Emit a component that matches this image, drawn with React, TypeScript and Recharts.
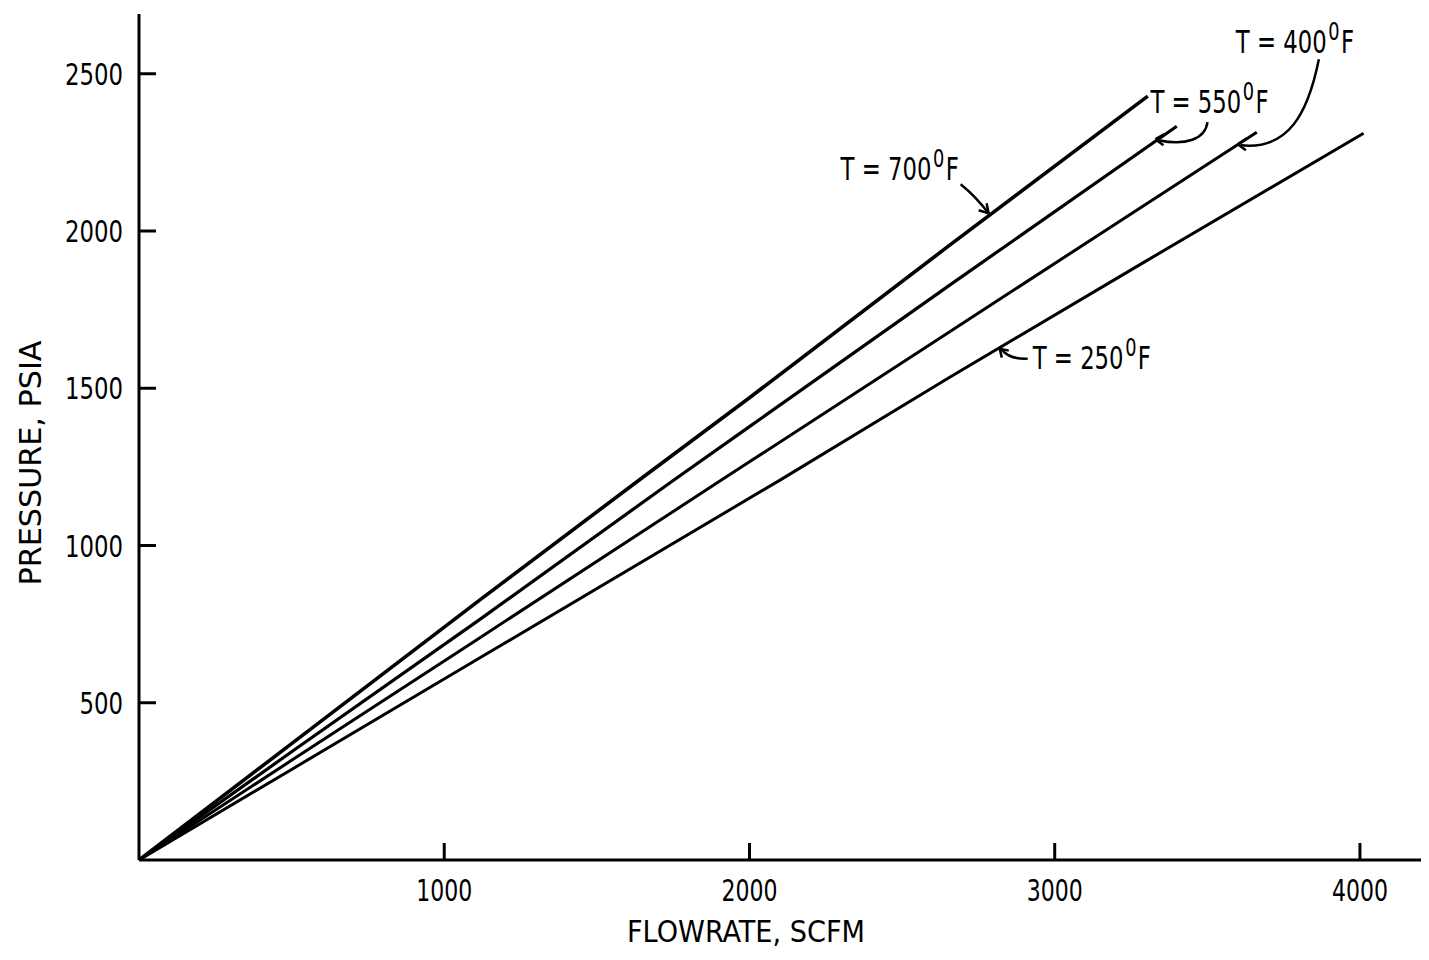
import React from 'react';
import { LineChart, Line, XAxis, YAxis, ReferenceDot } from 'recharts';

// flowrate (SCFM) / pressure (PSIA)
const flow700 = [0, 500, 1117, 1641, 2000, 2656, 3305];
const press700 = [0, 370, 827, 1210, 1470, 1955, 2429];
const flow550 = [0, 500, 1117, 1749, 2000, 2656, 3400];
const press550 = [0, 344, 765, 1206, 1378, 1828, 2333];
const flow400 = [0, 500, 1117, 1903, 2000, 2656, 3662];
const press400 = [0, 317, 707, 1205, 1266, 1680, 2314];
const flow250 = [0, 500, 1117, 2100, 2656, 3300, 4012];
const press250 = [0, 288, 643, 1208, 1535, 1905, 2311];

const xTicks = [1000, 2000, 3000, 4000];
const yTicks = [500, 1000, 1500, 2000, 2500];

// label text and where its arrow touches the curve
const curveLabels = ['700', '550', '400', '250'];
const tipFlow = [2790, 3330, 3600, 2820];
const tipPress = [2050, 2292, 2276, 1626];

const FONT = "'DejaVu Sans Condensed', 'DejaVu Sans', sans-serif";

const toRows = (f: number[], p: number[]) => f.map((x, i) => ({ flow: x, pressure: p[i] }));

const series = [
  { name: '700', data: toRows(flow700, press700), width: 3.6 },
  { name: '550', data: toRows(flow550, press550), width: 3.2 },
  { name: '400', data: toRows(flow400, press400), width: 3 },
  { name: '250', data: toRows(flow250, press250), width: 3 },
];

// per-label drawing: text anchor offset and arrow path, relative to the tip
const labelGeom: Record<string, { tx: number; ty: number; path: string; head: string }> = {
  '700': { tx: -150, ty: -35, path: 'M-30,-31 Q-16,-20 -2,-2', head: 'M-2,-2 L-4,-12 M-2,-2 L-12,-5' },
  '550': { tx: -5, ty: -26, path: 'M52,-17 C50,0 30,7 3,1', head: 'M0,0 L9,-5 M0,0 L8,6' },
  '400': { tx: -2, ty: -91, path: 'M81,-85 C70,-30 50,6 3,1', head: 'M0,0 L9,-6 M0,0 L8,6' },
  '250': { tx: 33, ty: 20, path: 'M28,10 Q10,11 2,1', head: 'M0,0 L2,9 M0,0 L9,2' },
};

const CurveLabel = ({ cx, cy, temp }: any) => {
  const g = labelGeom[temp];
  return (
    <g>
      <g transform={`translate(${cx},${cy})`} stroke="#000" strokeWidth={2.5} fill="none">
        <path d={g.path} />
        <path d={g.head} />
      </g>
      {/* the scanned lettering is narrow, so squeeze the glyphs sideways */}
      <g transform={`translate(${cx + g.tx},${cy + g.ty}) scale(0.79,1)`} fontFamily={FONT} fill="#000">
        <text x={0} y={0} fontSize={32}>{`T = ${temp}`}</text>
        <text x={117} y={-13} fontSize={25}>0</text>
        <text x={133} y={0} fontSize={32}>F</text>
      </g>
    </g>
  );
};

const YTick = ({ x, y, payload }: any) => {
  const s = String(payload.value);
  return (
    <g>
      <line x1={x} x2={x + 17} y1={y} y2={y} stroke="#000" strokeWidth={3} />
      <text
        x={x - 16}
        y={y}
        dy={11}
        textAnchor="end"
        fontFamily={FONT}
        fontSize={31}
        fill="#000"
        textLength={s.length * 14.5}
        lengthAdjust="spacingAndGlyphs"
      >
        {s}
      </text>
    </g>
  );
};

const XTick = ({ x, y, payload }: any) => {
  const s = String(payload.value);
  return (
    <g>
      <line x1={x} x2={x} y1={y} y2={y - 17} stroke="#000" strokeWidth={3} />
      <text
        x={x}
        y={y + 41}
        textAnchor="middle"
        fontFamily={FONT}
        fontSize={31}
        fill="#000"
        textLength={s.length * 14}
        lengthAdjust="spacingAndGlyphs"
      >
        {s}
      </text>
    </g>
  );
};

export default function App() {
  return (
    <div style={{ position: 'absolute', left: 0, top: 0, width: 1429, height: 960, background: '#fff' }}>
      <LineChart width={1429} height={960} margin={{ top: 14, right: 8, left: 0, bottom: 0 }}>
        <XAxis
          type="number"
          dataKey="flow"
          domain={[0, 4200]}
          ticks={xTicks}
          allowDataOverflow
          height={100}
          tickSize={0}
          tickMargin={0}
          tickLine={false}
          axisLine={{ stroke: '#000', strokeWidth: 3 }}
          tick={<XTick />}
          label={{
            content: ({ viewBox }: any) => (
              <text
                x={viewBox.x + 607}
                y={viewBox.y + 82}
                textAnchor="middle"
                fontFamily={FONT}
                fontSize={31}
                fill="#000"
                textLength={238}
                lengthAdjust="spacingAndGlyphs"
              >
                FLOWRATE, SCFM
              </text>
            ),
          }}
        />
        <YAxis
          type="number"
          dataKey="pressure"
          domain={[0, 2690]}
          ticks={yTicks}
          allowDataOverflow
          width={139}
          tickSize={0}
          tickMargin={0}
          tickLine={false}
          axisLine={{ stroke: '#000', strokeWidth: 3 }}
          tick={<YTick />}
          label={{
            content: () => (
              <text
                x={41}
                y={463}
                transform="rotate(-90 41 463)"
                textAnchor="middle"
                fontFamily={FONT}
                fontSize={31}
                fill="#000"
                textLength={245}
                lengthAdjust="spacingAndGlyphs"
              >
                PRESSURE, PSIA
              </text>
            ),
          }}
        />
        {series.map((s) => (
          <Line
            key={s.name}
            data={s.data}
            dataKey="pressure"
            type="linear"
            stroke="#000"
            strokeWidth={s.width}
            dot={false}
            activeDot={false}
            isAnimationActive={false}
          />
        ))}
        {curveLabels.map((t, i) => (
          <ReferenceDot
            key={t}
            x={tipFlow[i]}
            y={tipPress[i]}
            ifOverflow="visible"
            shape={(p: any) => <CurveLabel cx={p.cx} cy={p.cy} temp={t} />}
          />
        ))}
      </LineChart>
    </div>
  );
}
